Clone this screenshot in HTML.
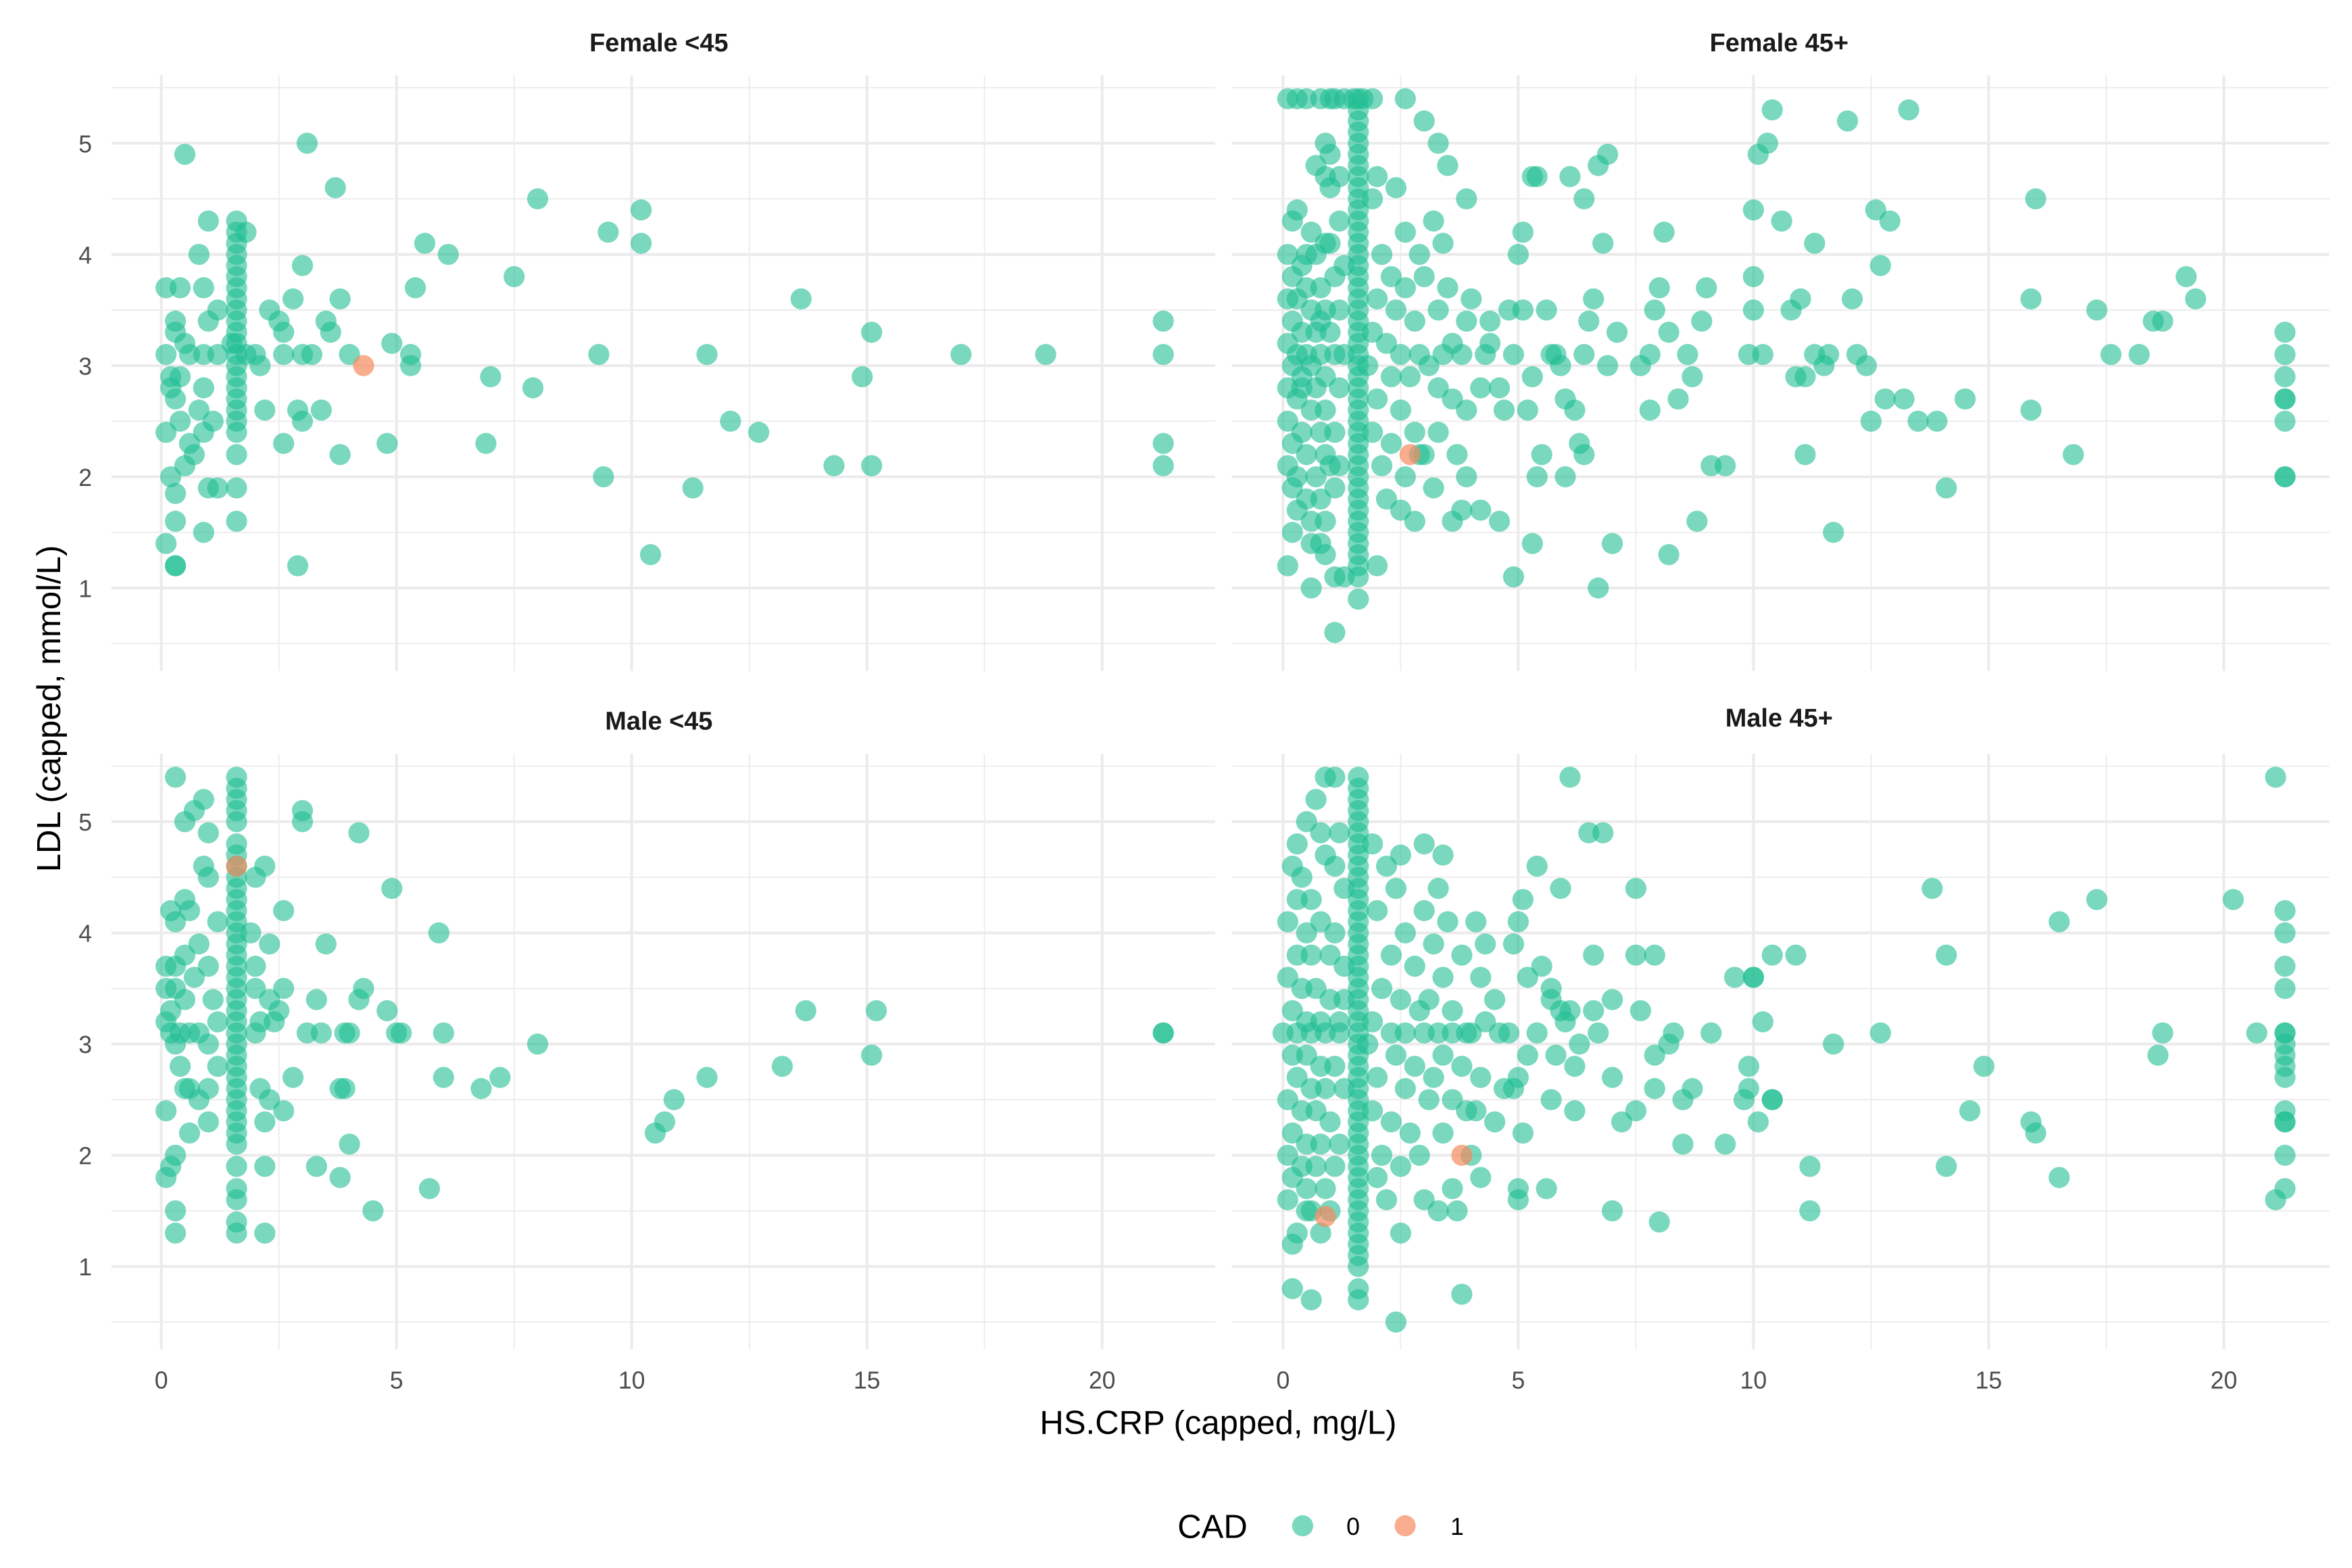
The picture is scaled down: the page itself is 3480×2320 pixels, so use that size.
<!DOCTYPE html>
<html><head><meta charset="utf-8"><style>
html,body{margin:0;padding:0;background:#fff;}
svg{display:block;font-family:"Liberation Sans",sans-serif;}
</style></head><body>
<svg id="chart" xmlns="http://www.w3.org/2000/svg" width="3480" height="2320" viewBox="0 0 1560 1040">
<g id="grid"></g>
<g id="pts"></g>
<g id="labels"></g>
<text x="437" y="34" text-anchor="middle" font-weight="bold" font-size="17" fill="#1a1a1a">Female &lt;45</text>
<text x="1180" y="34" text-anchor="middle" font-weight="bold" font-size="17" fill="#1a1a1a">Female 45+</text>
<text x="437" y="484" text-anchor="middle" font-weight="bold" font-size="17" fill="#1a1a1a">Male &lt;45</text>
<text x="1180" y="482" text-anchor="middle" font-weight="bold" font-size="17" fill="#1a1a1a">Male 45+</text>
<text x="808" y="951" text-anchor="middle" font-size="22" fill="#000">HS.CRP (capped, mg/L)</text>
<text transform="translate(40,470) rotate(-90)" text-anchor="middle" font-size="22" fill="#000">LDL (capped, mmol/L)</text>
<g>
<text x="781" y="1020" font-size="22" fill="#000">CAD</text>
<circle cx="864" cy="1012" r="7" fill="#1fbe93" fill-opacity="0.6"/>
<text x="893" y="1018" font-size="16" fill="#000">0</text>
<circle cx="932" cy="1012" r="7" fill="#f58a5f" fill-opacity="0.7"/>
<text x="962" y="1018" font-size="16" fill="#000">1</text>
</g>
</svg>
<script>
const xTicks=[0,5,10,15,20];
const yTicks=[1,2,3,4,5];
const panelNames=["female-under45","female-45plus","male-under45","male-45plus"];
const fu45=[[0.1,3.7],[0.4,3.7],[0.1,3.1],[0.3,3.4],[0.3,3.3],[0.5,3.2],[0.2,2.9],[0.4,2.9],[0.2,2.8],[0.3,2.7],[0.1,2.4],[0.4,2.5],[0.6,2.3],[0.7,2.2],[0.2,2.0],[0.5,2.1],[0.3,1.85],[0.3,1.6],[0.1,1.4],[0.3,1.2],[0.3,1.2],[0.9,1.5],[0.5,4.9],[0.8,4.0],[1.0,4.3],[1.0,3.4],[0.9,3.7],[0.6,3.1],[0.9,3.1],[1.2,3.5],[0.8,2.6],[0.9,2.8],[1.1,2.5],[1.0,1.9],[1.2,1.9],[0.9,2.4],[1.2,3.1],[1.8,4.2],[1.5,3.2],[1.8,3.1],[2.0,3.1],[2.3,3.5],[2.5,3.4],[2.6,3.3],[2.1,3.0],[2.6,3.1],[2.2,2.6],[2.6,2.3],[2.8,3.6],[3.0,3.9],[2.9,2.6],[3.0,2.5],[3.1,5.0],[3.0,3.1],[3.2,3.1],[3.5,3.4],[3.6,3.3],[3.4,2.6],[3.7,4.6],[3.8,2.2],[3.8,3.6],[4.0,3.1],[4.8,2.3],[4.9,3.2],[5.3,3.0],[5.3,3.1],[5.4,3.7],[5.6,4.1],[6.1,4.0],[6.9,2.3],[7.0,2.9],[7.5,3.8],[7.9,2.8],[8.0,4.5],[9.3,3.1],[9.5,4.2],[9.4,2.0],[10.2,4.4],[10.2,4.1],[10.4,1.3],[11.3,1.9],[11.6,3.1],[12.1,2.5],[12.7,2.4],[13.6,3.6],[14.3,2.1],[14.9,2.9],[15.1,3.3],[15.1,2.1],[17.0,3.1],[18.8,3.1],[21.3,3.4],[21.3,3.1],[21.3,2.3],[21.3,2.1],[2.9,1.2]];
const fu45ColX=1.6;
const fu45Col=[4.3,4.2,4.1,4.0,3.9,3.8,3.7,3.6,3.5,3.4,3.3,3.2,3.1,3.0,2.9,2.8,2.7,2.6,2.5,2.4,2.2,1.9,1.6];
const fu45Cad=[[4.3,3.0]];
const f45=[[0.1,5.4],[0.3,5.4],[0.5,5.4],[0.8,5.4],[1.0,5.4],[1.1,5.4],[1.3,5.4],[1.5,5.4],[1.7,5.4],[1.9,5.4],[2.6,5.4],[0.9,5.0],[1.0,4.9],[0.7,4.8],[0.9,4.7],[1.0,4.6],[1.2,4.7],[0.3,4.4],[0.2,4.3],[0.6,4.2],[0.9,4.1],[1.0,4.1],[0.7,4.0],[0.1,4.0],[0.4,3.9],[0.2,3.8],[0.5,3.7],[0.8,3.7],[1.1,3.8],[0.1,3.6],[0.3,3.6],[0.6,3.5],[0.9,3.5],[1.2,3.5],[0.2,3.4],[0.4,3.3],[0.7,3.3],[1.0,3.3],[0.1,3.2],[0.3,3.1],[0.5,3.1],[0.8,3.1],[1.1,3.1],[1.3,3.1],[0.2,3.0],[0.6,3.0],[0.9,2.9],[0.1,2.8],[0.4,2.8],[0.7,2.8],[1.2,2.8],[0.3,2.7],[0.6,2.6],[0.9,2.6],[0.1,2.5],[0.4,2.4],[0.8,2.4],[1.1,2.4],[0.2,2.3],[0.5,2.2],[0.9,2.2],[0.1,2.1],[0.3,2.0],[0.7,2.0],[1.0,2.1],[0.2,1.9],[0.5,1.8],[0.8,1.8],[1.1,1.9],[0.3,1.7],[0.6,1.6],[0.9,1.6],[0.2,1.5],[0.6,1.4],[0.8,1.4],[0.1,1.2],[0.6,1.0],[1.1,1.1],[1.3,1.1],[0.9,1.3],[1.1,0.6],[0.4,2.9],[0.8,3.4],[0.5,4.0],[1.2,4.3],[1.3,3.9],[1.2,2.1],[1.9,4.5],[2.0,4.7],[2.4,4.6],[2.6,4.2],[2.1,4.0],[2.3,3.8],[2.6,3.7],[2.0,3.6],[2.4,3.5],[2.8,3.4],[1.9,3.3],[2.2,3.2],[2.5,3.1],[2.9,3.1],[1.8,3.0],[2.3,2.9],[2.7,2.9],[2.0,2.7],[2.5,2.6],[1.9,2.4],[2.3,2.3],[2.8,2.4],[2.1,2.1],[2.6,2.0],[2.2,1.8],[2.9,2.2],[3.0,2.2],[2.5,1.7],[2.8,1.6],[2.0,1.2],[2.9,4.0],[3.0,3.8],[3.2,4.3],[3.4,4.1],[3.5,3.7],[3.3,3.5],[3.1,3.0],[3.4,3.1],[3.6,3.2],[3.8,3.1],[3.9,3.4],[4.0,3.6],[3.3,2.8],[3.6,2.7],[3.9,2.6],[3.3,2.4],[3.7,2.2],[3.9,2.0],[3.2,1.9],[3.6,1.6],[3.8,1.7],[4.2,1.7],[3.0,5.2],[3.3,5.0],[3.5,4.8],[3.9,4.5],[4.4,3.4],[4.4,3.2],[4.6,2.8],[4.3,3.1],[4.7,2.6],[4.2,2.8],[4.6,1.6],[4.9,1.1],[4.8,3.5],[4.9,3.1],[5.1,3.5],[5.1,4.2],[5.0,4.0],[5.2,2.6],[5.4,2.0],[5.3,1.4],[5.3,2.9],[5.5,2.2],[5.6,3.5],[5.7,3.1],[5.8,3.1],[5.3,4.7],[5.4,4.7],[5.9,3.0],[6.0,2.7],[6.2,2.6],[6.3,2.3],[6.0,2.0],[6.4,2.2],[6.4,3.1],[6.1,4.7],[6.4,4.5],[6.7,4.8],[6.9,4.9],[6.8,4.1],[6.6,3.6],[6.5,3.4],[7.1,3.3],[6.9,3.0],[6.7,1.0],[7.0,1.4],[7.6,3.0],[7.8,3.1],[7.9,3.5],[8.0,3.7],[8.1,4.2],[8.2,3.3],[8.4,2.7],[8.6,3.1],[8.7,2.9],[8.9,3.4],[9.0,3.7],[9.1,2.1],[9.4,2.1],[8.8,1.6],[8.2,1.3],[7.8,2.6],[9.9,3.1],[10.0,3.8],[10.2,3.1],[10.0,3.5],[10.0,4.4],[10.1,4.9],[10.3,5.0],[10.4,5.3],[10.6,4.3],[10.8,3.5],[10.9,2.9],[11.1,2.9],[11.0,3.6],[11.3,3.1],[11.3,4.1],[11.5,3.0],[11.6,3.1],[11.1,2.2],[11.7,1.5],[12.1,3.6],[12.2,3.1],[12.4,3.0],[12.0,5.2],[12.6,4.4],[12.7,3.9],[12.9,4.3],[12.5,2.5],[13.2,2.7],[13.3,5.3],[13.5,2.5],[13.9,2.5],[14.1,1.9],[14.5,2.7],[15.9,2.6],[15.9,3.6],[16.0,4.5],[16.8,2.2],[17.3,3.5],[17.6,3.1],[18.2,3.1],[18.5,3.4],[18.7,3.4],[19.2,3.8],[19.4,3.6],[21.3,3.3],[21.3,3.1],[21.3,2.9],[21.3,2.7],[21.3,2.7],[21.3,2.5],[21.3,2.0],[21.3,2.0],[12.8,2.7]];
const f45ColX=1.6;
const f45Col=[5.4,5.3,5.2,5.1,5.0,4.9,4.8,4.7,4.6,4.5,4.4,4.3,4.2,4.1,4.0,3.9,3.8,3.7,3.6,3.5,3.4,3.3,3.2,3.1,3.0,2.9,2.8,2.7,2.6,2.5,2.4,2.3,2.2,2.1,2.0,1.9,1.8,1.7,1.6,1.5,1.4,1.3,1.2,1.1,0.9];
const f45Cad=[[2.7,2.2]];
const mu45=[[0.1,3.7],[0.3,3.7],[0.1,3.5],[0.3,3.5],[0.5,3.4],[0.2,3.3],[0.2,3.1],[0.4,3.1],[0.6,3.1],[0.8,3.1],[0.3,3.0],[0.1,3.2],[0.7,3.6],[0.5,3.8],[0.8,3.9],[0.2,4.2],[0.5,4.3],[0.6,4.2],[0.3,4.1],[0.3,5.4],[0.5,5.0],[0.7,5.1],[0.9,5.2],[1.0,4.9],[0.9,4.6],[1.0,4.5],[0.4,2.8],[0.5,2.6],[0.6,2.6],[0.8,2.5],[1.0,2.6],[0.1,2.4],[0.6,2.2],[1.0,2.3],[0.3,2.0],[0.2,1.9],[0.1,1.8],[0.3,1.5],[0.3,1.3],[1.0,3.7],[1.1,3.4],[1.2,3.2],[1.0,3.0],[1.2,2.8],[1.2,4.1],[2.0,4.5],[2.2,4.6],[1.9,4.0],[2.0,3.7],[2.3,3.9],[2.0,3.5],[2.3,3.4],[2.1,3.2],[2.4,3.2],[2.0,3.1],[2.6,3.5],[2.5,3.3],[2.1,2.6],[2.3,2.5],[2.2,2.3],[2.6,2.4],[2.8,2.7],[2.2,1.9],[2.2,1.3],[2.6,4.2],[3.0,5.0],[3.0,5.1],[3.1,3.1],[3.3,3.4],[3.4,3.1],[3.5,3.9],[3.3,1.9],[3.8,2.6],[3.8,1.8],[3.9,3.1],[4.0,2.1],[4.2,3.4],[4.3,3.5],[4.2,4.9],[4.5,1.5],[4.8,3.3],[4.9,4.4],[5.0,3.1],[5.1,3.1],[5.9,4.0],[5.7,1.7],[6.0,3.1],[6.0,2.7],[6.8,2.6],[7.2,2.7],[8.0,3.0],[10.5,2.2],[10.7,2.3],[10.9,2.5],[11.6,2.7],[13.2,2.8],[13.7,3.3],[15.1,2.9],[15.2,3.3],[21.3,3.1],[21.3,3.1],[3.9,2.6],[4.0,3.1]];
const mu45ColX=1.6;
const mu45Col=[5.4,5.3,5.2,5.1,5.0,4.8,4.7,4.6,4.5,4.4,4.3,4.2,4.1,4.0,3.9,3.8,3.7,3.6,3.5,3.4,3.3,3.2,3.1,3.0,2.9,2.8,2.7,2.6,2.5,2.4,2.3,2.2,2.1,1.9,1.7,1.6,1.4,1.3];
const mu45Cad=[[1.6,4.6]];
const m45=[[0.9,5.4],[1.1,5.4],[0.7,5.2],[0.5,5.0],[0.3,4.8],[0.8,4.9],[1.2,4.9],[0.2,4.6],[0.4,4.5],[0.9,4.7],[1.1,4.6],[0.3,4.3],[0.6,4.3],[1.3,4.4],[0.1,4.1],[0.5,4.0],[0.8,4.1],[1.1,4.0],[0.3,3.8],[0.6,3.8],[1.0,3.8],[1.3,3.7],[0.1,3.6],[0.4,3.5],[0.7,3.5],[1.0,3.4],[1.3,3.4],[0.2,3.3],[0.5,3.2],[0.8,3.2],[1.2,3.2],[0.0,3.1],[0.3,3.1],[0.6,3.1],[0.9,3.1],[1.2,3.1],[0.2,2.9],[0.5,2.9],[0.8,2.8],[1.1,2.8],[0.3,2.7],[0.6,2.6],[0.9,2.6],[1.3,2.6],[0.1,2.5],[0.4,2.4],[0.7,2.4],[1.0,2.3],[0.2,2.2],[0.5,2.1],[0.8,2.1],[1.2,2.1],[0.1,2.0],[0.4,1.9],[0.7,1.9],[1.1,1.9],[0.2,1.8],[0.5,1.7],[0.9,1.7],[0.1,1.6],[0.6,1.5],[1.0,1.5],[0.3,1.3],[0.8,1.3],[0.2,1.2],[0.5,1.5],[0.2,0.8],[0.6,0.7],[1.9,4.8],[2.2,4.6],[2.4,4.4],[2.0,4.2],[2.6,4.0],[2.3,3.8],[2.8,3.7],[2.1,3.5],[2.5,3.4],[2.9,3.3],[1.9,3.2],[2.3,3.1],[2.6,3.1],[3.0,3.1],[1.8,3.0],[2.4,2.9],[2.8,2.8],[2.0,2.7],[2.6,2.6],[3.1,2.5],[1.9,2.4],[2.3,2.3],[2.7,2.2],[2.1,2.0],[2.5,1.9],[2.9,2.0],[2.0,1.8],[2.2,1.6],[2.5,1.3],[3.0,1.6],[2.4,0.5],[2.5,4.7],[3.0,4.8],[3.4,4.7],[3.3,4.4],[3.0,4.2],[3.5,4.1],[3.2,3.9],[3.8,3.8],[3.4,3.6],[3.1,3.4],[3.6,3.3],[3.3,3.1],[3.6,3.1],[3.9,3.1],[3.4,2.9],[3.8,2.8],[3.2,2.7],[3.6,2.5],[3.9,2.4],[3.4,2.2],[3.6,1.7],[3.3,1.5],[3.7,1.5],[4.2,1.8],[4.0,2.0],[3.8,0.75],[4.2,3.6],[4.3,3.9],[4.1,4.1],[4.0,3.1],[4.3,3.2],[4.2,2.7],[4.1,2.4],[4.5,2.3],[4.5,3.4],[4.6,3.1],[4.8,3.1],[4.7,2.6],[4.9,2.6],[5.0,2.7],[4.9,3.9],[5.0,4.1],[5.1,4.3],[5.2,3.6],[5.2,2.9],[5.1,2.2],[5.0,1.7],[5.0,1.6],[5.4,4.6],[5.4,3.1],[5.5,3.7],[5.7,3.5],[5.7,3.4],[5.9,3.3],[6.0,3.2],[6.1,3.3],[5.7,2.5],[5.8,2.9],[6.2,2.8],[6.2,2.4],[5.9,4.4],[6.3,3.0],[5.6,1.7],[6.7,3.1],[6.6,3.3],[6.5,4.9],[6.8,4.9],[6.6,3.8],[6.1,5.4],[7.0,3.4],[7.0,2.7],[7.0,1.5],[7.2,2.3],[7.5,3.8],[7.5,4.4],[7.6,3.3],[7.5,2.4],[7.9,2.6],[7.9,3.8],[7.9,2.9],[8.2,3.0],[8.0,1.4],[8.3,3.1],[8.5,2.1],[8.7,2.6],[8.5,2.5],[9.1,3.1],[9.4,2.1],[9.6,3.6],[9.8,2.5],[9.9,2.8],[9.9,2.6],[10.0,3.6],[10.0,3.6],[10.1,2.3],[10.2,3.2],[10.4,2.5],[10.4,3.8],[10.9,3.8],[11.2,1.9],[11.2,1.5],[11.7,3.0],[12.7,3.1],[13.8,4.4],[14.1,3.8],[14.1,1.9],[14.6,2.4],[14.9,2.8],[15.9,2.3],[16.0,2.2],[16.5,4.1],[16.5,1.8],[17.3,4.3],[18.6,2.9],[18.7,3.1],[20.2,4.3],[20.7,3.1],[21.1,5.4],[21.1,1.6],[21.3,4.2],[21.3,4.0],[21.3,3.7],[21.3,3.5],[21.3,3.1],[21.3,3.1],[21.3,3.0],[21.3,2.9],[21.3,2.8],[21.3,2.7],[21.3,2.4],[21.3,2.3],[21.3,2.3],[21.3,2.0],[21.3,1.7],[10.4,2.5]];
const m45ColX=1.6;
const m45Col=[5.4,5.3,5.2,5.1,5.0,4.9,4.8,4.7,4.6,4.5,4.4,4.3,4.2,4.1,4.0,3.9,3.8,3.7,3.6,3.5,3.4,3.3,3.2,3.1,3.0,2.9,2.8,2.7,2.6,2.5,2.4,2.3,2.2,2.1,2.0,1.9,1.8,1.7,1.6,1.5,1.4,1.3,1.2,1.1,1.0,0.8,0.7];
const m45Cad=[[3.8,2.0],[0.9,1.45]];

const NS="http://www.w3.org/2000/svg";
const panels=[
 {x0:107,y5:95,left:74,right:806,top:50,bottom:445,pts:fu45,colX:fu45ColX,col:fu45Col,cad:fu45Cad,showX:false,showY:true},
 {x0:851,y5:95,left:817,right:1545,top:50,bottom:445,pts:f45,colX:f45ColX,col:f45Col,cad:f45Cad,showX:false,showY:false},
 {x0:107,y5:545,left:74,right:806,top:500,bottom:895,pts:mu45,colX:mu45ColX,col:mu45Col,cad:mu45Cad,showX:true,showY:true},
 {x0:851,y5:545,left:817,right:1545,top:500,bottom:895,pts:m45,colX:m45ColX,col:m45Col,cad:m45Cad,showX:true,showY:false}
];
const XS=31.2, YS=73.75;
const grid=document.getElementById('grid'), pg=document.getElementById('pts'), lg=document.getElementById('labels');
function line(x1,y1,x2,y2,w){const l=document.createElementNS(NS,'line');l.setAttribute('x1',x1);l.setAttribute('y1',y1);l.setAttribute('x2',x2);l.setAttribute('y2',y2);l.setAttribute('stroke','#ebebeb');l.setAttribute('stroke-width',w);return l;}
panels.forEach((p,i)=>{
  const sx=v=>p.x0+v*XS, sy=v=>p.y5+(5-v)*YS;
  const minorX=[2.5,7.5,12.5,17.5,22.5], minorY=[0.5,1.5,2.5,3.5,4.5,5.5];
  minorX.forEach(v=>{if(sx(v)<p.right){const l=line(sx(v),p.top,sx(v),p.bottom,0.8);
    
    grid.appendChild(l);}});
  minorY.forEach(v=>{const l=line(p.left,sy(v),p.right,sy(v),0.8);
    
    grid.appendChild(l);});
  xTicks.forEach(v=>{const l=line(sx(v),p.top,sx(v),p.bottom,1.8);
    
    grid.appendChild(l);
    if(p.showX){const t=document.createElementNS(NS,'text');t.setAttribute('x',sx(v));t.setAttribute('y',921);t.setAttribute('text-anchor','middle');t.setAttribute('font-size','16');t.setAttribute('fill','#4d4d4d');t.textContent=v;
      
      lg.appendChild(t);}});
  yTicks.forEach(v=>{const l=line(p.left,sy(v),p.right,sy(v),1.8);
    
    grid.appendChild(l);
    if(p.showY){const t=document.createElementNS(NS,'text');t.setAttribute('x',61);t.setAttribute('y',sy(v)+6);t.setAttribute('text-anchor','end');t.setAttribute('font-size','16');t.setAttribute('fill','#4d4d4d');t.textContent=v;
      
      lg.appendChild(t);}});
  const g=document.createElementNS(NS,'g');
  
  
  pg.appendChild(g);
  function dot(x,y,cad){const c=document.createElementNS(NS,'circle');c.setAttribute('cx',sx(x));c.setAttribute('cy',sy(y));c.setAttribute('r',7);
    c.setAttribute('fill',cad?'#f58a5f':'#1fbe93');c.setAttribute('fill-opacity',cad?'0.7':'0.6');
    
    g.appendChild(c);}
  p.pts.forEach(d=>dot(d[0],d[1],false));
  p.col.forEach(y=>dot(p.colX,y,false));
  p.cad.forEach(d=>dot(d[0],d[1],true));
});
</script>
</body></html>
